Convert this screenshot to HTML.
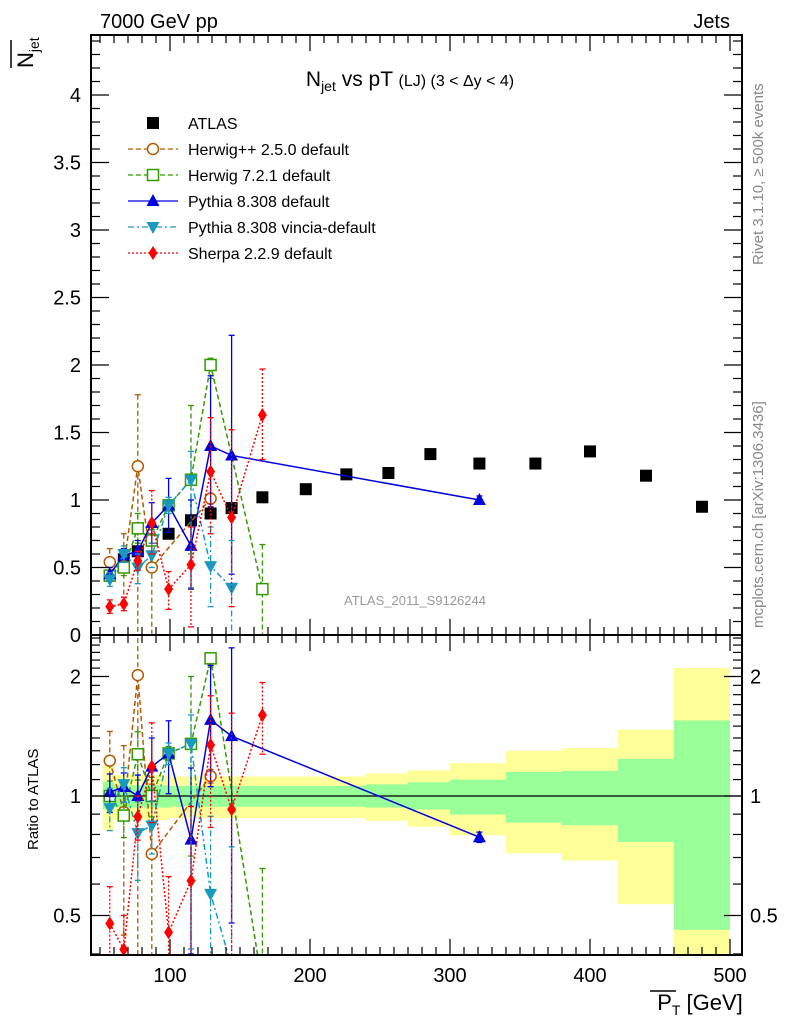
<!DOCTYPE html>
<html><head><meta charset="utf-8"><style>
html,body{margin:0;padding:0;background:#fff;width:786px;height:1024px;overflow:hidden}
svg{display:block;font-family:"Liberation Sans",sans-serif}
</style></head><body>
<svg id="c" width="786" height="1024" viewBox="0 0 786 1024">
<defs>
<clipPath id="cm"><rect x="91" y="35" width="651" height="600"/></clipPath>
<clipPath id="cr"><rect x="91" y="635" width="651" height="320"/></clipPath>
</defs>
<g id="bands" clip-path="url(#cr)"></g>
<g id="series"></g>
<g id="axes"></g>
<text x="100" y="28" font-size="20">7000 GeV pp</text>
<text x="730" y="28" font-size="20" text-anchor="end">Jets</text>
<text x="410" y="86" font-size="21" text-anchor="middle">N<tspan font-size="14" dy="5">jet</tspan><tspan dy="-5"> vs pT </tspan><tspan font-size="16">(LJ) (3 &lt; Δy &lt; 4)</tspan></text>
<text x="415" y="605" font-size="13" fill="#999" text-anchor="middle">ATLAS_2011_S9126244</text>
<text transform="translate(763,265) rotate(-90)" font-size="15" fill="#888">Rivet 3.1.10, ≥ 500k events</text>
<text transform="translate(763,628) rotate(-90)" font-size="15" fill="#888">mcplots.cern.ch [arXiv:1306.3436]</text>
<text transform="translate(33,68) rotate(-90)" font-size="22">N<tspan font-size="14" dy="6">jet</tspan></text>
<line x1="11" y1="68" x2="11" y2="40" stroke="#000" stroke-width="1.5"/>
<text transform="translate(38,850) rotate(-90)" font-size="15">Ratio to ATLAS</text>
<text x="700" y="1010" font-size="22" text-anchor="middle">P<tspan font-size="14" dy="5">T</tspan><tspan dy="-5"> [GeV]</tspan></text>
<line x1="650" y1="991" x2="676" y2="991" stroke="#000" stroke-width="1.5"/>
<g id="legend"></g>
</svg>
<script>
const binsX=[57,67,77,87,99,115,129,144,166,197,226,256,286,321,361,400,440,480];
const atlasY=[0.44,0.56,0.62,0.70,0.75,0.85,0.90,0.94,1.02,1.08,1.19,1.20,1.34,1.27,1.27,1.36,1.18,0.95];
const bandEdges=[52,60,100,180,240,270,300,340,380,420,460,500];
const greenHi=[1.085,1.064,1.06,1.06,1.07,1.083,1.10,1.15,1.157,1.24,1.55];
const greenLo=[0.925,0.935,0.94,0.94,0.935,0.925,0.898,0.857,0.844,0.766,0.46];
const yellowHi=[1.20,1.13,1.12,1.12,1.14,1.16,1.21,1.30,1.32,1.47,2.10];
const yellowLo=[0.82,0.87,0.88,0.88,0.866,0.837,0.796,0.717,0.688,0.534,0.35];
const hppX=[57,67,77,87,129];
const hppY=[0.54,0.51,1.25,0.50,1.01];
const hppHi=[0.64,0.75,1.78,0.75,1.05];
const hppLo=[0.44,0.25,0,0,0.97];
const h7X=[57,67,77,87,99,115,129,166];
const h7Y=[0.44,0.50,0.79,0.70,0.96,1.15,2.0,0.34];
const h7Hi=[0.48,0.56,0.90,0.78,1.0,1.70,2.05,0.67];
const h7Lo=[0.40,0.44,0.68,0.62,0.92,0.6,1.9,0];
const pyX=[57,67,77,87,99,115,129,144,321];
const pyY=[0.45,0.59,0.62,0.83,0.96,0.66,1.40,1.33,1.0];
const pyHi=[0.50,0.64,0.70,0.98,1.16,1.0,1.92,2.22,1.03];
const pyLo=[0.40,0.54,0.54,0.68,0.76,0.34,0.95,0.45,0.97];
const viX=[57,67,77,87,99,115,129,144];
const viY=[0.41,0.60,0.50,0.59,0.96,1.15,0.51,0.35];
const viHi=[0.46,0.66,0.60,0.68,1.02,1.36,0.8,0.7];
const viLo=[0.36,0.54,0.38,0.50,0.90,0.35,0.21,0];
const shX=[57,67,77,87,99,115,129,144,166];
const shY=[0.21,0.23,0.55,0.83,0.34,0.52,1.21,0.87,1.63];
const shHi=[0.26,0.28,0.62,1.07,0.47,0.8,1.61,1.52,1.97];
const shLo=[0.16,0.18,0.48,0.60,0.19,0.06,0.75,0.21,1.30];
const NS='http://www.w3.org/2000/svg';
const X=v=>30+1.4*v;
const Ym=v=>635-135*v;
const Yr=v=>796-119.5*Math.log2(v);
function el(tag,attrs,parent){const e=document.createElementNS(NS,tag);for(const k in attrs)e.setAttribute(k,attrs[k]);parent.appendChild(e);return e;}
const bands=document.getElementById('bands');
for(let i=0;i<yellowHi.length;i++){
 const x1=X(bandEdges[i]),x2=X(bandEdges[i+1]);
 const y=el('rect',{x:x1,y:Yr(yellowHi[i]),width:x2-x1,height:Yr(yellowLo[i])-Yr(yellowHi[i]),fill:'#ffff99'},bands);
 
 
 const g=el('rect',{x:x1,y:Yr(greenHi[i]),width:x2-x1,height:Yr(greenLo[i])-Yr(greenHi[i]),fill:'#99ff99'},bands);
 
 
}
el('line',{x1:91,y1:796,x2:742,y2:796,stroke:'#000','stroke-width':1.2},bands);
function marker(type,x,y,color,p){
 let m;
 if(type==='sq')m=el('rect',{x:x-6,y:y-6,width:12,height:12,fill:'#000'},p);
 else if(type==='circ')m=el('circle',{cx:x,cy:y,r:5.5,fill:'#fff',stroke:color,'stroke-width':1.5},p);
 else if(type==='osq')m=el('rect',{x:x-5.5,y:y-5.5,width:11,height:11,fill:'#fff',stroke:color,'stroke-width':1.5},p);
 else if(type==='tu')m=el('polygon',{points:`${x},${y-7} ${x-6.5},${y+5} ${x+6.5},${y+5}`,fill:color},p);
 else if(type==='td')m=el('polygon',{points:`${x},${y+7} ${x-6.5},${y-5} ${x+6.5},${y-5}`,fill:color},p);
 else m=el('polygon',{points:`${x},${y-7} ${x-4.5},${y} ${x},${y+7} ${x+4.5},${y}`,fill:color},p);
 return m;
}
const series=document.getElementById('series');
const defs=[
 {n:'herwigpp',lab:'Herwig++ 2.5.0 default',c:'#b35900',d:'5,3',m:'circ',x:hppX,y:hppY,hi:hppHi,lo:hppLo},
 {n:'herwig7',lab:'Herwig 7.2.1 default',c:'#339900',d:'5,3',m:'osq',x:h7X,y:h7Y,hi:h7Hi,lo:h7Lo},
 {n:'pythia',lab:'Pythia 8.308 default',c:'#0000dd',d:'',m:'tu',x:pyX,y:pyY,hi:pyHi,lo:pyLo},
 {n:'vincia',lab:'Pythia 8.308 vincia-default',c:'#1a99c0',d:'6,3,2,3',m:'td',x:viX,y:viY,hi:viHi,lo:viLo},
 {n:'sherpa',lab:'Sherpa 2.2.9 default',c:'#ff0000',d:'2,2',m:'dia',x:shX,y:shY,hi:shHi,lo:shLo}
];
function atlasAt(x){return atlasY[binsX.indexOf(x)];}
const ga=el('g',{'clip-path':'url(#cm)'},series);


binsX.forEach((x,i)=>{const m=marker('sq',X(x),Ym(atlasY[i]),'#000',ga);});
defs.forEach(s=>{
 [['m',Ym,'cm',v=>1],['r',Yr,'cr',x=>atlasAt(x)]].forEach(([pn,Yf,cl,norm])=>{
  const g=el('g',{'clip-path':`url(#${cl})`},series);
  
  
  const f=(v,i)=>{const r=v/norm(s.x[i]);return Yf(pn==='r'?Math.max(r,0.05):r);};
  const pts=s.x.map((x,i)=>X(x)+','+f(s.y[i],i)).join(' ');
  el('polyline',{points:pts,fill:'none',stroke:s.c,'stroke-width':1.5,'stroke-dasharray':s.d},g);
  s.x.forEach((x,i)=>{
   const xx=X(x),yh=f(s.hi[i],i),yl=f(Math.max(s.lo[i],0.001),i);
   el('line',{x1:xx,y1:yh,x2:xx,y2:yl,stroke:s.c,'stroke-width':1.3,'stroke-dasharray':s.d},g);
   el('line',{x1:xx-3,y1:yh,x2:xx+3,y2:yh,stroke:s.c,'stroke-width':1.3},g);
   el('line',{x1:xx-3,y1:yl,x2:xx+3,y2:yl,stroke:s.c,'stroke-width':1.3},g);
   const m=marker(s.m,xx,f(s.y[i],i),s.c,g);
   
   
  });
 });
});
const lg=document.getElementById('legend');
const la=el('g',{},lg);


marker('sq',153,123,'#000',la);
el('text',{x:188,y:129,'font-size':16},la).textContent='ATLAS';
defs.forEach((s,i)=>{
 const y=149+26*i;
 const g=el('g',{},lg);
 
 
 el('line',{x1:128,y1:y,x2:178,y2:y,stroke:s.c,'stroke-width':1.3,'stroke-dasharray':s.d},g);
 marker(s.m,153,y,s.c,g);
 el('text',{x:188,y:y+6,'font-size':16},g).textContent=s.lab;
});
const ax=document.getElementById('axes');
const L=91,R=742,T=35,M=635,B=955;
el('rect',{x:L,y:T,width:R-L,height:M-T,fill:'none',stroke:'#000','stroke-width':2},ax);
el('rect',{x:L,y:M,width:R-L,height:B-M,fill:'none',stroke:'#000','stroke-width':2},ax);
for(let v=50;v<=500;v+=10){const x=X(v);const big=v%100===0;const len=big?16:8;
 [[T,1],[M,-1],[M,1],[B,-1]].forEach(([y0,d])=>el('line',{x1:x,y1:y0,x2:x,y2:y0+d*len,stroke:'#000','stroke-width':1.2},ax));
 if(big){const t=el('text',{x:x,y:982,'font-size':20,'text-anchor':'middle'},ax);t.textContent=v;}}
for(let k=0;k<=44;k++){const v=k/10,y=Ym(v);const big=k%5===0;const len=big?18:9;
 el('line',{x1:L,y1:y,x2:L+len,y2:y,stroke:'#000','stroke-width':1.2},ax);
 el('line',{x1:R,y1:y,x2:R-len,y2:y,stroke:'#000','stroke-width':1.2},ax);
 if(big){const t=el('text',{x:81,y:y+7,'font-size':20,'text-anchor':'end'},ax);t.textContent=v;}}
[0.4,0.5,0.6,0.7,0.8,0.9,1,1.1,1.2,1.3,1.4,1.5,1.6,1.7,1.8,1.9,2,2.1,2.2,2.3,2.4,2.5].forEach(v=>{
 const y=Yr(v);const big=(v===0.5||v===1||v===2);const len=big?18:9;
 el('line',{x1:L,y1:y,x2:L+len,y2:y,stroke:'#000','stroke-width':1.2},ax);
 el('line',{x1:R,y1:y,x2:R-len,y2:y,stroke:'#000','stroke-width':1.2},ax);
 if(big){const t=el('text',{x:81,y:y+7,'font-size':20,'text-anchor':'end'},ax);t.textContent=v;
  const t2=el('text',{x:750,y:y+7,'font-size':20},ax);t2.textContent=v;}
});
</script>
</body></html>
